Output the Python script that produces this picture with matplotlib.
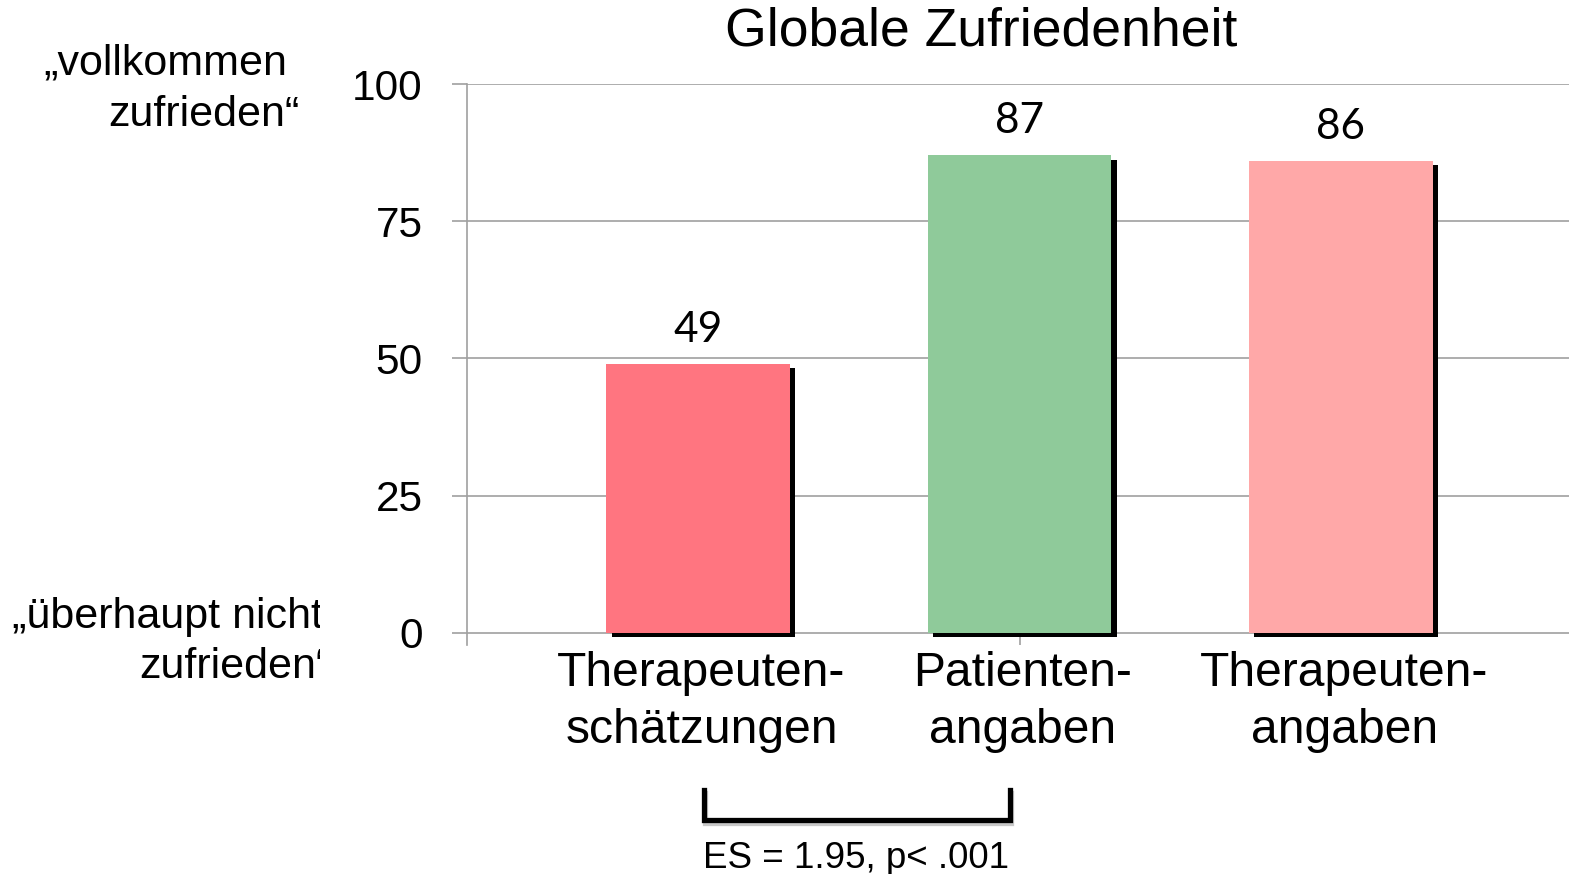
import matplotlib
matplotlib.use("Agg")
import matplotlib.pyplot as plt
import matplotlib.patheffects as pe
from matplotlib.patches import Rectangle

# Data
categories = ["Therapeuten-\nschätzungen", "Patienten-\nangaben", "Therapeuten-\nangaben"]
values = [49, 87, 86]
bar_colors = ["#FF7580", "#8FCA9A", "#FFA8A8"]
yticks = [0, 25, 50, 75, 100]
title = "Globale Zufriedenheit"
top_label = ["„vollkommen", "zufrieden“"]
bottom_label = ["„überhaupt nicht", "zufrieden“"]
stat_text = "ES = 1.95, p< .001"
compare_pair = (0, 1)

SANS = ["Liberation Sans", "DejaVu Sans"]
NUM = ["Lato", "DejaVu Sans"]

W, H = 1569, 874
fig = plt.figure(figsize=(W / 100, H / 100), dpi=100)
ax = fig.add_axes([467 / W, 1 - 645 / H, 1 - 467 / W, (645 - 84) / H])

x = list(range(len(categories)))
ymin = -2.2
ax.set_xlim(-0.72, 2.71)
ax.set_ylim(ymin, 100)

# grid lines
for t in yticks:
    ax.axhline(t, color="#A0A0A0", lw=1.2, zorder=1)

shadow = [pe.SimplePatchShadow(offset=(3.8, -3.0), shadow_rgbFace="black", alpha=1.0), pe.Normal()]
bars = ax.bar(x, values, width=0.572, color=bar_colors, zorder=3)
for b in bars:
    b.set_path_effects(shadow)

# value labels
for xi, v in zip(x, values):
    ax.annotate(f"{v}", (xi, v), xytext=(0, 16), textcoords="offset points",
                ha="center", va="baseline", fontsize=30.5, family=NUM, color="black")

# axes styling
for s in ["top", "right", "bottom"]:
    ax.spines[s].set_visible(False)
ax.spines["left"].set_color("#A0A0A0")
ax.spines["left"].set_linewidth(1.2)
ax.set_yticks(yticks)
ax.set_yticklabels([str(t) for t in yticks], fontsize=30.5, family=SANS)
ax.tick_params(axis="y", length=11, width=1.2, color="#A0A0A0", pad=21)
ax.set_xticks([])
ax.vlines(1, ymin, 0, color="#A0A0A0", lw=1.2, zorder=1)

# category labels
for xi, lab in zip(x, categories):
    ax.text(xi + 0.01, -3.3, lab, ha="center", va="top", fontsize=34.6,
            family=SANS, linespacing=1.33)

# title
fig.text(981 / W, 1 - 32 / H, title, ha="center", va="center", fontsize=38.5, family=SANS)

# scale anchors on the left
fig.text(287 / W, 1 - 63 / H, top_label[0], ha="right", va="center", fontsize=31, family=SANS)
fig.text(300 / W, 1 - 115 / H, top_label[1], ha="right", va="center", fontsize=31, family=SANS)
clip = Rectangle((0, 0), 320 / W, 1, transform=fig.transFigure)
t1 = fig.text(12 / W, 1 - 617 / H, bottom_label[0], ha="left", va="center", fontsize=31, family=SANS)
t2 = fig.text(139 / W, 1 - 667 / H, bottom_label[1], ha="left", va="center", fontsize=31, family=SANS)
for t in (t1, t2):
    t.set_clip_path(clip)

# significance bracket
px = 1 / 5.49
y_top = (633 - 790) * px
y_bot = (633 - 820) * px
xa, xb = compare_pair[0] + 0.019, compare_pair[1] - 0.03
ax.plot([xa, xa, xb, xb], [y_top, y_bot, y_bot, y_top], color="black", lw=3.8,
        solid_joinstyle="miter", clip_on=False, zorder=5,
        path_effects=[pe.SimpleLineShadow(offset=(0.5, -2.2), shadow_color="#C8C8C8", alpha=1.0), pe.Normal()])
fig.text(856 / W, 1 - 858 / H, stat_text, ha="center", va="center", fontsize=26.5, family=SANS)

fig.savefig("out.png", dpi=100, facecolor="white")
